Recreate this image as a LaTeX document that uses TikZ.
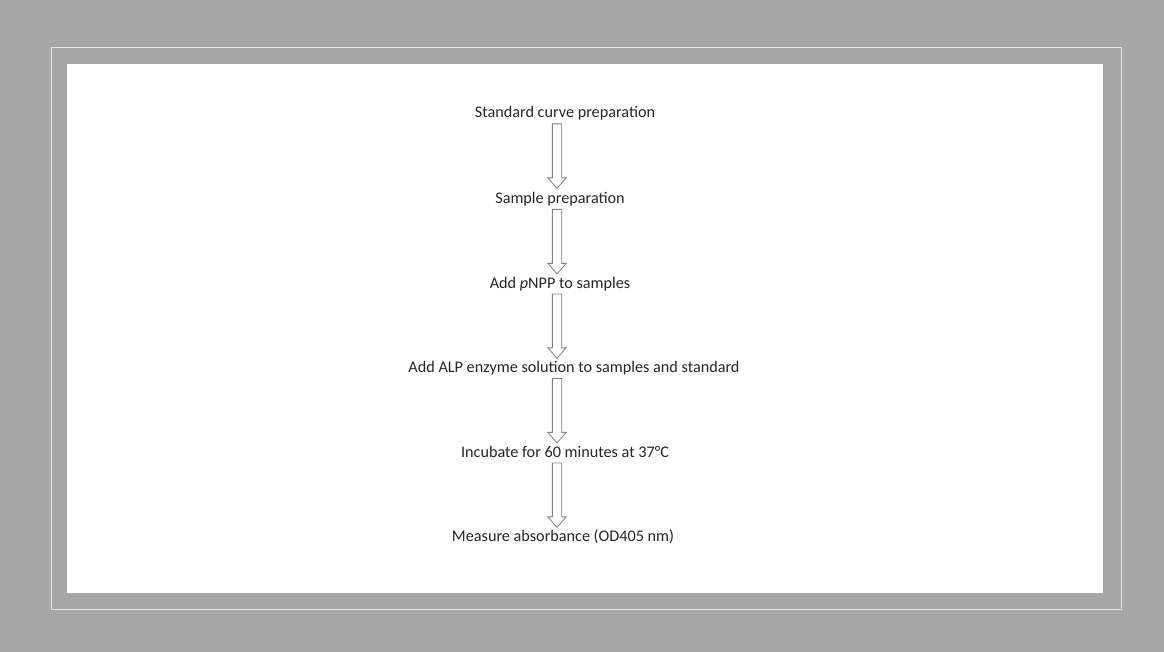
\documentclass[tikz,border=0pt]{standalone}
\usepackage{fontspec}
\setmainfont{Carlito}
\usetikzlibrary{shapes.arrows, calc}
\definecolor{framegray}{HTML}{A6A6A6}
\definecolor{linegray}{HTML}{E6E6E6}
\definecolor{arrowgray}{HTML}{808080}
\definecolor{textgray}{HTML}{262626}
\tikzset{
  stepnode/.style={inner sep=0pt, anchor=base, text=textgray, font=\fontsize{16.2}{18}\selectfont},
  flowarrow/.style={single arrow, draw=arrowgray, fill=white, line width=0.8pt,
    minimum height=64.5pt, minimum width=17.5pt, inner sep=4.25pt,
    single arrow head extend=4.5pt, single arrow tip angle=82,
    shape border rotate=270, anchor=tail}
}
\begin{document}
\begin{tikzpicture}[x=1pt, y=-1pt]
      \useasboundingbox (0,0) rectangle (1164,652);
      \fill [framegray] (0,0) rectangle (1164,652);
      \draw [linegray, line width=1pt] (51,48) rectangle (1121,609);
      \fill [white] (67,64) rectangle (1103,593);
      % steps
      \node [stepnode] (s1) at (565,118) {Standard curve preparation};
      \node [stepnode] (s2) at (560,203.5) {Sample preparation};
      \node [stepnode] (s3) at (560,288) {Add \emph{p}NPP to samples};
      \node [stepnode] (s4) at (574,372.5) {Add ALP enzyme solution to samples and standard};
      \node [stepnode] (s5) at (565,457) {Incubate for 60 minutes at 37°C};
      \node [stepnode] (s6) at (563,541.5) {Measure absorbance (OD405 nm)};
      \coordinate (ax) at (557,0);
      \foreach \i in {1,...,5}
      {
        \node [flowarrow] (a\i) at ($(s\i.base -| ax)+(0,5.5)$) {};
      }
    \end{tikzpicture}
\end{document}
